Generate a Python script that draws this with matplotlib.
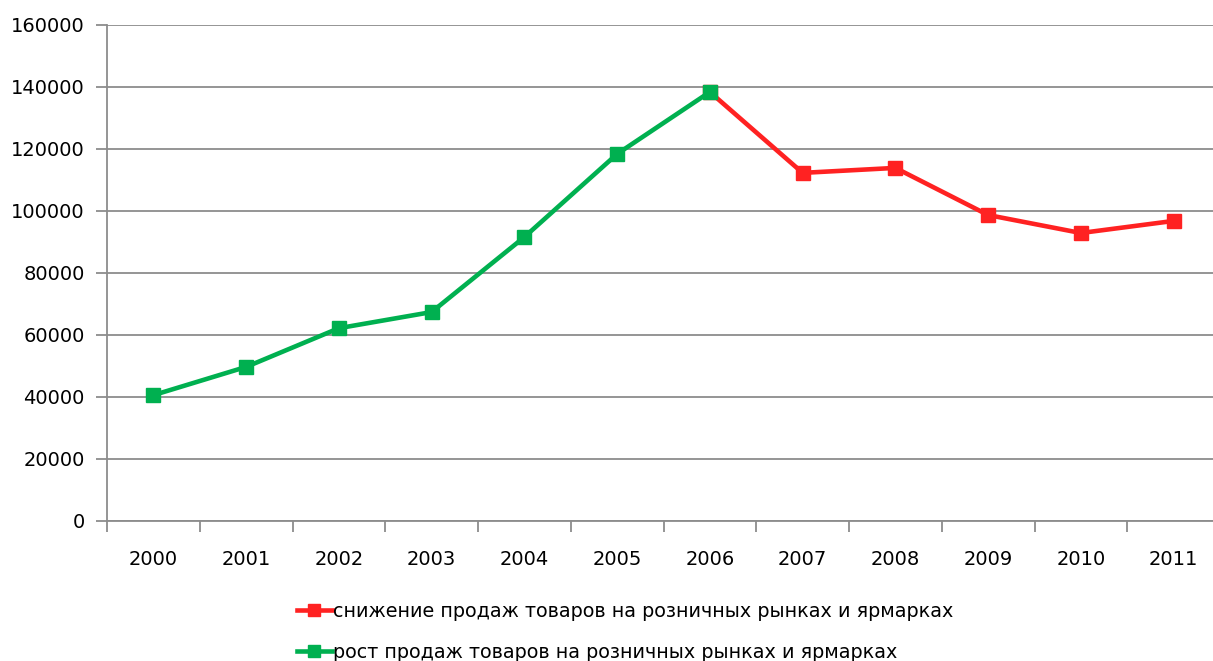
import matplotlib.pyplot as plt
from matplotlib.ticker import FixedLocator

years = ["2000", "2001", "2002", "2003", "2004", "2005",
         "2006", "2007", "2008", "2009", "2010", "2011"]
growth = [40600, 49700, 62200, 67400, 91600, 118400, 138400]
decline = [138400, 112300, 113900, 98700, 92900, 96800]
yticks = [0, 20000, 40000, 60000, 80000, 100000, 120000, 140000, 160000]

label_red = "снижение продаж товаров на розничных рынках и ярмарках"
label_green = "рост продаж товаров на розничных рынках и ярмарках"

plt.rcParams['font.family'] = ['DejaVu Sans']

fig = plt.figure(figsize=(12.13, 6.61), dpi=100)
ax = fig.add_axes([107 / 1213, 140 / 661, 1113 / 1213, 496 / 661])

x = list(range(len(years)))
ax.plot(x[6:], decline, color='#ff2222', lw=3.3, marker='s', ms=9.5,
        label=label_red, zorder=3)
ax.plot(x[:7], growth, color='#00b050', lw=3.3, marker='s', ms=9.5,
        label=label_green, zorder=4)

ax.set_xlim(-0.5, 11.5)
ax.set_ylim(0, 160000)
ax.set_yticks(yticks)
ax.set_yticklabels([str(v) for v in yticks])
ax.yaxis.grid(True, color='#8c8c8c', lw=1.3)
ax.set_axisbelow(True)

ax.set_xticks(x)
ax.set_xticklabels(years)
ax.xaxis.set_minor_locator(FixedLocator([i - 0.5 for i in range(13)]))
ax.tick_params(axis='x', which='major', length=0, pad=21, labelsize=14)
ax.tick_params(axis='x', which='minor', length=8, color='#8c8c8c', width=1.3)
ax.tick_params(axis='y', length=8, color='#8c8c8c', width=1.3, pad=8, labelsize=14)

for side in ['top', 'right']:
    ax.spines[side].set_visible(False)
for side in ['left', 'bottom']:
    ax.spines[side].set_color('#8c8c8c')
    ax.spines[side].set_linewidth(1.3)

leg = fig.legend(loc='upper left', bbox_to_anchor=(287 / 1213, 1 - 592 / 661),
                 frameon=False, fontsize=13.8, handlelength=1.85, handletextpad=0.05,
                 labelspacing=1.15, borderpad=0)
for line in leg.get_lines():
    line.set_markersize(8)

fig.savefig('out.png', dpi=100)
